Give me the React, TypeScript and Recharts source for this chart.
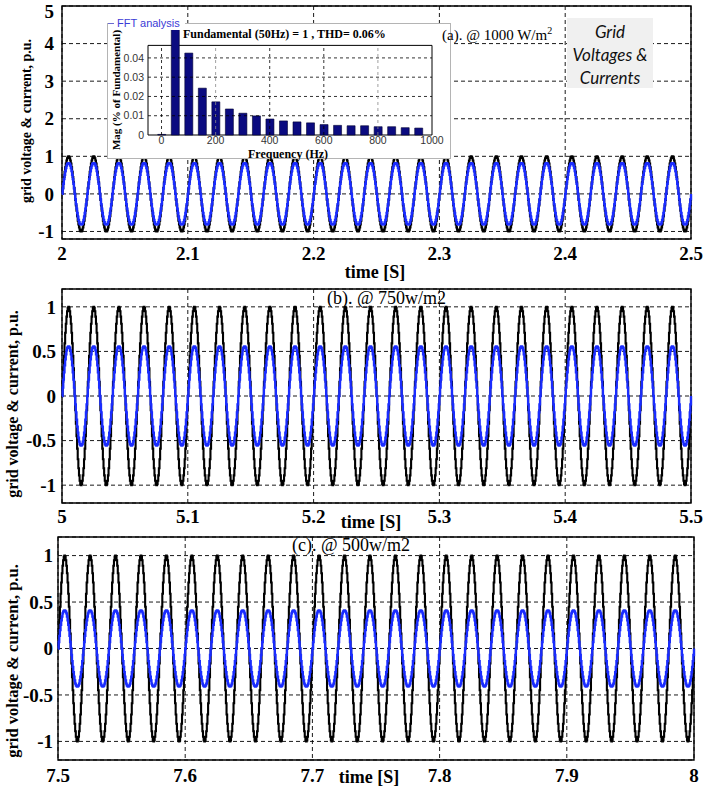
import React from 'react';
import {
  LineChart,
  Line,
  XAxis,
  YAxis,
  CartesianGrid,
  ReferenceArea,
  ReferenceLine,
  BarChart,
  Bar,
} from 'recharts';

// One 50 Hz cycle, 40 samples, normalised to a peak of 1 (grid voltage)
const VOLTAGE_CYCLE = [
  0, 0.16, 0.31, 0.45, 0.59, 0.71, 0.81, 0.89, 0.95, 0.99,
  1, 0.99, 0.95, 0.89, 0.81, 0.71, 0.59, 0.45, 0.31, 0.16,
  0, -0.16, -0.31, -0.45, -0.59, -0.71, -0.81, -0.89, -0.95, -0.99,
  -1, -0.99, -0.95, -0.89, -0.81, -0.71, -0.59, -0.45, -0.31, -0.16,
];

// One 50 Hz cycle of injected current, slightly flattened crest
const CURRENT_CYCLE = [
  0, 0.17, 0.33, 0.48, 0.62, 0.74, 0.84, 0.92, 0.97, 0.99,
  1, 0.99, 0.97, 0.92, 0.84, 0.74, 0.62, 0.48, 0.33, 0.17,
  0, -0.17, -0.33, -0.48, -0.62, -0.74, -0.84, -0.92, -0.97, -0.99,
  -1, -0.99, -0.97, -0.92, -0.84, -0.74, -0.62, -0.48, -0.33, -0.17,
];

const SAMPLE_STEP = 0.0005; // s, 40 samples per 20 ms cycle
const CYCLES_PER_PANEL = 25;

const PANEL_START = [2, 5, 7.5];
const PANEL_END = [2.5, 5.5, 8];
const VOLTAGE_PEAK = [1.0, 1.0, 1.0];
const CURRENT_PEAK = [0.82, 0.555, 0.41];

const X_TICKS = [
  [2, 2.1, 2.2, 2.3, 2.4, 2.5],
  [5, 5.1, 5.2, 5.3, 5.4, 5.5],
  [7.5, 7.6, 7.7, 7.8, 7.9, 8],
];
const Y_TICKS_A = [-1, 0, 1, 2, 3, 4, 5];
const Y_TICKS_BC = [-1, -0.5, 0, 0.5, 1];

// FFT of the grid current at 1000 W/m2
const FFT_FREQ = [0, 50, 100, 150, 200, 250, 300, 350, 400, 450, 500, 550, 600, 650, 700, 750, 800, 850, 900, 950];
const FFT_MAG = [
  0.0003, 0.055, 0.0425, 0.0243, 0.0172, 0.0135, 0.0113, 0.0099, 0.0083, 0.0073,
  0.0068, 0.0063, 0.0054, 0.005, 0.0048, 0.0048, 0.0043, 0.0043, 0.0038, 0.0036,
];
const FFT_X_TICKS = [0, 200, 400, 600, 800, 1000];
const FFT_Y_TICKS = [0, 0.01, 0.02, 0.03, 0.04];
const FFT_Y_TOP = 0.0465;

const SERIF = '"Liberation Serif", "Times New Roman", serif';
const SANS = '"Liberation Sans", Arial, sans-serif';

type Sample = { t: number; v: number; i: number };

function buildPanel(p: number): Sample[] {
  const out: Sample[] = [];
  const n = VOLTAGE_CYCLE.length;
  for (let c = 0; c < CYCLES_PER_PANEL; c++) {
    for (let k = 0; k < n; k++) {
      const idx = c * n + k;
      out.push({
        t: PANEL_START[p] + idx * SAMPLE_STEP,
        v: VOLTAGE_CYCLE[k] * VOLTAGE_PEAK[p],
        i: CURRENT_CYCLE[k] * CURRENT_PEAK[p],
      });
    }
  }
  out.push({ t: PANEL_END[p], v: VOLTAGE_CYCLE[0], i: CURRENT_CYCLE[0] });
  return out;
}

const fftData = FFT_FREQ.map((f, k) => ({ f, m: FFT_MAG[k] }));

const TICK_FONT = { fontFamily: SERIF, fontWeight: 700, fontSize: 19, fill: '#000' };

// Y tick label kept inside the page when it sits on the top edge
function YTick(props: any) {
  const { x, y, payload } = props;
  return (
    <text x={x} y={Math.max(y, 11)} dy="0.355em" textAnchor="end" {...TICK_FONT}>
      {payload.value}
    </text>
  );
}

type PanelProps = {
  p: number;
  height: number;
  margin: { top: number; right: number; bottom: number; left: number };
  yDomain: [number, number];
  yTicks: number[];
  xTickMargin: number;
  yTickMargin: number;
};

// Axis bands are 1px wide; margins are set one pixel short to compensate
function Panel({ p, height, margin, yDomain, yTicks, xTickMargin, yTickMargin }: PanelProps) {
  const data = buildPanel(p);
  const m = { ...margin, left: margin.left - 1, bottom: margin.bottom - 1 };
  return (
    <LineChart width={705} height={height} data={data} margin={m}>
      <CartesianGrid stroke="#000" strokeWidth={0.9} strokeDasharray="4 3" />
      <XAxis
        dataKey="t"
        type="number"
        domain={[PANEL_START[p], PANEL_END[p]]}
        ticks={X_TICKS[p]}
        height={1}
        tickSize={0}
        tickMargin={xTickMargin}
        axisLine={false}
        tickLine={false}
        tick={TICK_FONT}
        interval={0}
      />
      <YAxis
        type="number"
        domain={yDomain}
        ticks={yTicks}
        width={1}
        tickSize={0}
        tickMargin={yTickMargin}
        axisLine={false}
        tickLine={false}
        tick={<YTick />}
        interval={0}
      />
      <Line
        dataKey="v"
        type="stepAfter"
        stroke="#000"
        strokeWidth={2.1}
        dot={false}
        isAnimationActive={false}
      />
      <Line
        dataKey="i"
        type="stepAfter"
        stroke="#1a2cff"
        strokeWidth={2.3}
        dot={false}
        isAnimationActive={false}
      />
      <ReferenceArea
        x1={PANEL_START[p]}
        x2={PANEL_END[p]}
        y1={yDomain[0]}
        y2={yDomain[1]}
        fill="none"
        stroke="#000"
        strokeWidth={1.4}
      />
    </LineChart>
  );
}

function FftInset() {
  return (
    <BarChart width={343} height={135} data={fftData} margin={{ top: 6, right: 18, bottom: 22, left: 40 }}>
      <XAxis
        dataKey="f"
        type="number"
        domain={[-50, 1000]}
        ticks={FFT_X_TICKS}
        height={1}
        tickSize={0}
        tickMargin={2}
        axisLine={false}
        tickLine={false}
        tick={{ fontFamily: SANS, fontSize: 10.5, fill: '#333' }}
        interval={0}
      />
      <YAxis
        type="number"
        domain={[0, 0.055]}
        ticks={FFT_Y_TICKS}
        width={1}
        tickSize={0}
        tickMargin={4}
        axisLine={false}
        tickLine={false}
        tick={{ fontFamily: SANS, fontSize: 10.5, fill: '#333' }}
        interval={0}
      />
      {FFT_Y_TICKS.slice(1).map((y) => (
        <ReferenceLine key={'h' + y} y={y} stroke="#000" strokeWidth={0.8} strokeDasharray="3 3" />
      ))}
      {FFT_X_TICKS.slice(0, -1).map((x) => (
        <ReferenceLine
          key={'v' + x}
          segment={[{ x, y: 0 }, { x, y: FFT_Y_TOP }]}
          stroke={x === 200 || x === 800 ? '#888' : '#000'}
          strokeWidth={0.8}
          strokeDasharray="3 3"
        />
      ))}
      <ReferenceArea x1={-50} x2={1000} y1={0} y2={FFT_Y_TOP} fill="none" stroke="#000" strokeWidth={1} />
      <Bar dataKey="m" barSize={8} fill="#0b0b80" stroke="#000030" strokeWidth={0.6} isAnimationActive={false} />
    </BarChart>
  );
}

const yTitle = 'grid voltage & current, p.u.';

export default function App() {
  return (
    <div style={{ position: 'absolute', left: 0, top: 0, width: 705, height: 789, background: '#fff', overflow: 'hidden' }}>
      <div style={{ position: 'absolute', left: 0, top: 0 }}>
        <Panel
          p={0}
          height={285}
          margin={{ top: 6, right: 14, bottom: 46, left: 62 }}
          yDomain={[-1.2, 5]}
          yTicks={Y_TICKS_A}
          xTickMargin={8}
          yTickMargin={8}
        />
      </div>
      <div style={{ position: 'absolute', left: 0, top: 280 }}>
        <Panel
          p={1}
          height={250}
          margin={{ top: 9, right: 14, bottom: 27, left: 62 }}
          yDomain={[-1.2, 1.2]}
          yTicks={Y_TICKS_BC}
          xTickMargin={7}
          yTickMargin={6}
        />
      </div>
      <div style={{ position: 'absolute', left: 0, top: 528 }}>
        <Panel
          p={2}
          height={261}
          margin={{ top: 9, right: 11, bottom: 29, left: 58 }}
          yDomain={[-1.2, 1.2]}
          yTicks={Y_TICKS_BC}
          xTickMargin={9}
          yTickMargin={5}
        />
      </div>

      {/* FFT inset */}
      <div style={{ position: 'absolute', left: 107, top: 23, width: 343, height: 135, background: '#fff' }}>
        <FftInset />
      </div>
      <svg width={705} height={789} style={{ position: 'absolute', left: 0, top: 0, pointerEvents: 'none' }}>
        <rect x={107.5} y={23.5} width={343} height={135} fill="none" stroke="#b4b4b4" strokeWidth={1} />
        <rect x={114} y={17} width={71} height={13} fill="#fff" />
        <line x1={108} y1={23.5} x2={114} y2={23.5} stroke="#6a6ad0" strokeWidth={1} />
        <text x={117} y={27} fontFamily={SANS} fontSize={11} fill="#3b3bd6">FFT analysis</text>
        <text x={183} y={38} fontFamily={SERIF} fontWeight={700} fontSize={12}>
          Fundamental (50Hz) = 1 , THD= 0.06%
        </text>
        <text x={288} y={158} textAnchor="middle" fontFamily={SERIF} fontWeight={700} fontSize={12}>
          Frequency (Hz)
        </text>
        <text
          x={0}
          y={0}
          transform="translate(120 90) rotate(-90)"
          textAnchor="middle"
          fontFamily={SERIF}
          fontWeight={700}
          fontSize={11}
        >
          Mag (% of Fundamental)
        </text>

        {/* panel annotations */}
        <text x={442} y={40} fontFamily={SERIF} fontSize={15}>
          (a). @ 1000 W/m<tspan dy={-6} fontSize={10}>2</tspan>
        </text>
        <rect x={567} y={18} width={86} height={70} fill="#f0f0f0" />
        <g fontFamily='Lato, "Open Sans", sans-serif' fontStyle="italic" fontSize={17} fill="#111" textAnchor="middle">
          <text x={610} y={38}>Grid</text>
          <text x={610} y={61}>Voltages &amp;</text>
          <text x={610} y={84}>Currents</text>
        </g>
        <text x={327} y={304} fontFamily={SERIF} fontSize={18}>(b). @ 750w/m2</text>
        <text x={292} y={551} fontFamily={SERIF} fontSize={18}>(c). @ 500w/m2</text>

        {/* axis titles */}
        <g fontFamily={SERIF} fontWeight={700} fill="#000" textAnchor="middle">
          <text x={0} y={0} fontSize={14} transform="translate(31 121) rotate(-90)">{yTitle}</text>
          <text x={0} y={0} fontSize={16} transform="translate(18 404) rotate(-90)">{yTitle}</text>
          <text x={0} y={0} fontSize={16.5} transform="translate(18 661) rotate(-90)">{yTitle}</text>
          <text x={375} y={278} fontSize={18}>time [S]</text>
          <text x={371} y={528} fontSize={18}>time [S]</text>
          <text x={369} y={783} fontSize={18}>time [S]</text>
        </g>
      </svg>
    </div>
  );
}
